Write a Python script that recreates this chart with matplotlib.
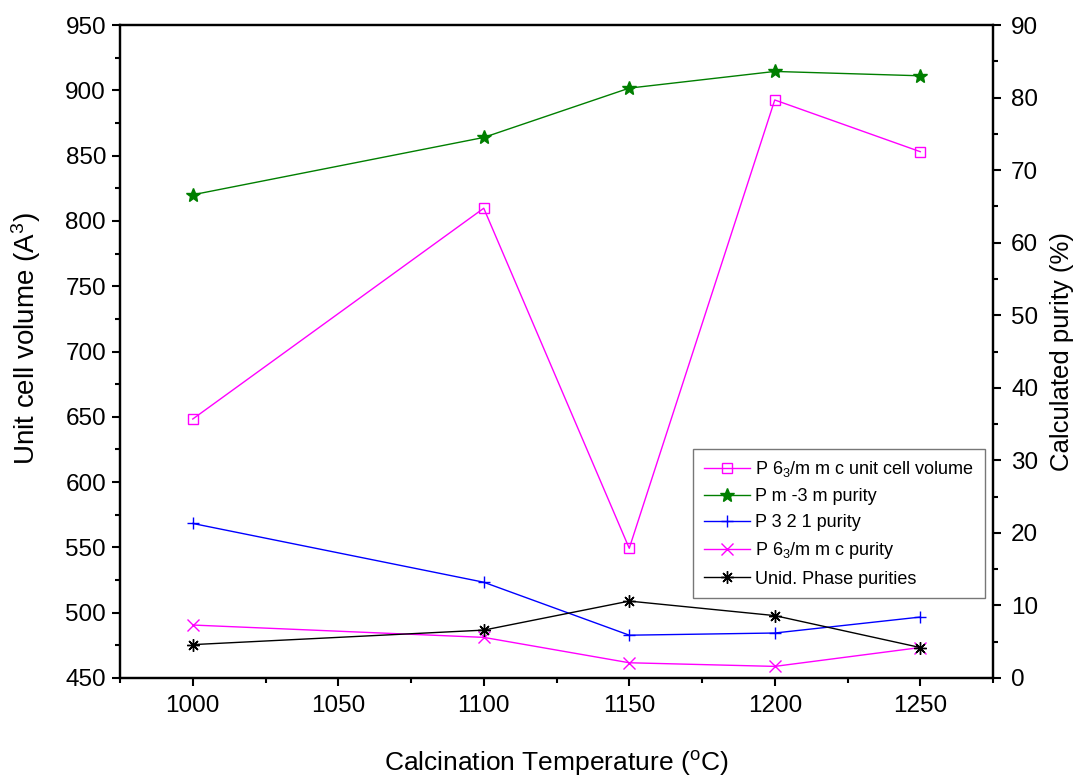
import matplotlib
matplotlib.use("Agg")
import matplotlib.pyplot as plt
from matplotlib.ticker import MultipleLocator

plt.rcParams['font.family'] = ['Liberation Sans', 'DejaVu Sans']
plt.rcParams['mathtext.fontset'] = 'custom'
plt.rcParams['mathtext.rm'] = 'Liberation Sans'
plt.rcParams['mathtext.it'] = 'Liberation Sans'
plt.rcParams['mathtext.default'] = 'regular'

# Calcination temperatures (°C)
temperature = [1000, 1100, 1150, 1200, 1250]

# P 6_3/m m c unit cell volume (A^3)
cell_volume = [648.3, 809.7, 549.3, 892.6, 853.0]

# Phase purities (%)
purity_pm3m = [66.6, 74.5, 81.3, 83.6, 83.0]
purity_p321 = [21.3, 13.2, 5.9, 6.2, 8.4]
purity_p63mmc = [7.3, 5.6, 2.1, 1.6, 4.2]
purity_unid = [4.6, 6.6, 10.6, 8.6, 4.2]

fig = plt.figure(figsize=(10.84, 7.78), dpi=100)
ax = fig.add_axes([120 / 1084, 1 - 678 / 778, 873 / 1084, 653 / 778])
ax2 = ax.twinx()

lw = 1.0
h1, = ax.plot(temperature, cell_volume, color='#FF00FF', lw=lw, marker='s',
              markersize=6.5, markerfacecolor='none', markeredgecolor='#FF00FF',
              markeredgewidth=1.0, label=r'P 6$_3$/m m c unit cell volume')
h2, = ax2.plot(temperature, purity_pm3m, color='#007F00', lw=lw, marker='*',
               markersize=10, markerfacecolor='#007F00', markeredgecolor='#007F00',
               label='P m -3 m purity')
h3, = ax2.plot(temperature, purity_p321, color='#0000FF', lw=lw, marker='+',
               markersize=8, markeredgewidth=1.0, label='P 3 2 1 purity')
h4, = ax2.plot(temperature, purity_p63mmc, color='#FF00FF', lw=lw, marker='x',
               markersize=8, markeredgewidth=1.0, label=r'P 6$_3$/m m c purity')
h5, = ax2.plot(temperature, purity_unid, color='black', lw=lw, marker=(8, 2, 0),
               markersize=9, markeredgewidth=1.0, label='Unid. Phase purities')

ax.set_xlim(975, 1275)
ax.set_ylim(450, 950)
ax2.set_ylim(0, 90)

ax.xaxis.set_major_locator(MultipleLocator(50))
ax.xaxis.set_minor_locator(MultipleLocator(25))
ax.yaxis.set_major_locator(MultipleLocator(50))
ax.yaxis.set_minor_locator(MultipleLocator(25))
ax2.yaxis.set_major_locator(MultipleLocator(10))
ax2.yaxis.set_minor_locator(MultipleLocator(5))

for a in (ax, ax2):
    for s in a.spines.values():
        s.set_linewidth(1.6)
    a.tick_params(which='major', direction='out', length=6, width=1.5,
                  labelsize=17.5)
    a.tick_params(which='minor', direction='out', length=3.5, width=1.5)
ax.tick_params(axis='x', pad=6)
ax.tick_params(axis='y', pad=4)
ax2.tick_params(axis='y', pad=7)

ax.set_xlabel(r'Calcination Temperature ($^o$C)', fontsize=19)
ax.xaxis.set_label_coords(0.5, -0.108)
ax.set_ylabel(r'Unit cell volume (A$^3$)', fontsize=20)
ax.yaxis.set_label_coords(-0.088, 0.52)
ax2.set_ylabel('Calculated purity (%)', fontsize=18.5)
ax2.yaxis.set_label_coords(1.065, 0.5)

leg = ax2.legend(handles=[h1, h2, h3, h4, h5], loc='lower right',
                 bbox_to_anchor=(0.991, 0.122), fontsize=13, frameon=True,
                 fancybox=False, edgecolor='#555555', handlelength=2.55,
                 handletextpad=0.3, borderpad=0.6, labelspacing=0.5,
                 borderaxespad=0.0, numpoints=1)
leg.get_frame().set_linewidth(1.0)

fig.savefig('out.png', dpi=100)
